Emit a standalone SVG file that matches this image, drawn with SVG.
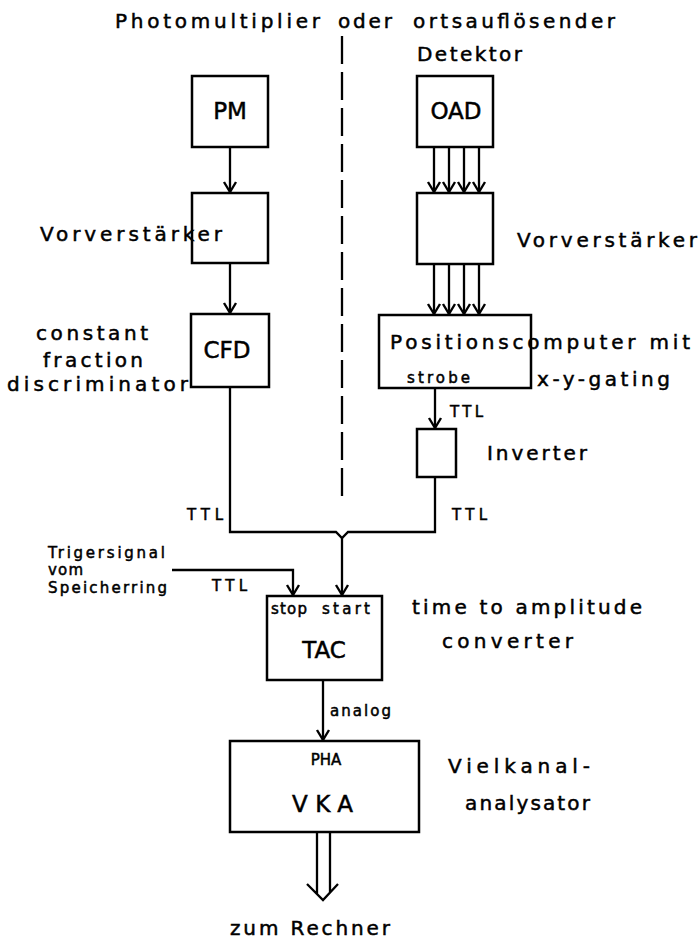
<svg xmlns="http://www.w3.org/2000/svg" width="699" height="940" viewBox="0 0 699 940">
<style>
text{font-family:"DejaVu Sans","Liberation Sans",sans-serif;fill:#000;stroke:#000;stroke-width:0.5}
.l{font-size:20px}
.b{font-size:23px}
.s{font-size:15px}
.box{fill:#fff;stroke:#000;stroke-width:2.5}
.ln{fill:none;stroke:#000;stroke-width:2.3}
</style>
<defs>
<marker id="ah" markerUnits="userSpaceOnUse" markerWidth="16" markerHeight="16" viewBox="-12 -8 14 16" refX="0" refY="0" orient="auto">
<path d="M-10,-6 L0,0 L-10,6" fill="none" stroke="#000" stroke-width="2.4"/>
</marker>
</defs>
<rect width="699" height="940" fill="#fff"/>
<g id="title">
<text class="l" x="115" y="28" textLength="205" lengthAdjust="spacing">Photomultiplier</text>
<text class="l" x="338" y="28" textLength="54" lengthAdjust="spacing">oder</text>
<text class="l" x="413" y="28" textLength="202" lengthAdjust="spacing">ortsauflösender</text>
<text class="l" x="417" y="61" textLength="105" lengthAdjust="spacing">Detektor</text>
</g>
<line x1="342" y1="36" x2="342" y2="496" stroke="#000" stroke-width="2.3" stroke-dasharray="28 8"/>
<g id="connectors">
<line class="ln" x1="230" y1="147" x2="230" y2="192" marker-end="url(#ah)"/>
<line class="ln" x1="230" y1="263" x2="230" y2="313" marker-end="url(#ah)"/>
<line class="ln" x1="434" y1="147" x2="434" y2="192" marker-end="url(#ah)"/>
<line class="ln" x1="449" y1="147" x2="449" y2="192" marker-end="url(#ah)"/>
<line class="ln" x1="464" y1="147" x2="464" y2="192" marker-end="url(#ah)"/>
<line class="ln" x1="479" y1="147" x2="479" y2="192" marker-end="url(#ah)"/>
<line class="ln" x1="434" y1="264" x2="434" y2="314" marker-end="url(#ah)"/>
<line class="ln" x1="449" y1="264" x2="449" y2="314" marker-end="url(#ah)"/>
<line class="ln" x1="464" y1="264" x2="464" y2="314" marker-end="url(#ah)"/>
<line class="ln" x1="479" y1="264" x2="479" y2="314" marker-end="url(#ah)"/>
<line class="ln" x1="435" y1="388" x2="435" y2="428" marker-end="url(#ah)"/>
<path class="ln" d="M230,387 V532 H336 L342,538 L348,532 H435 V477"/>
<line class="ln" x1="342" y1="538" x2="342" y2="595" marker-end="url(#ah)"/>
<path class="ln" d="M172,570 H293 V595" marker-end="url(#ah)"/>
<line class="ln" x1="323" y1="680" x2="323" y2="740" marker-end="url(#ah)"/>
<path class="ln" d="M317,832 V894 M330,832 V893 M307,884 L323,900 L338,884"/>
</g>
<g id="pm"><rect class="box" x="192" y="76" width="76" height="71"/><text class="b" x="230" y="119" text-anchor="middle">PM</text></g>
<g id="vv-left"><rect class="box" x="192" y="193" width="76" height="70"/></g>
<g id="cfd"><rect class="box" x="191" y="314" width="78" height="73"/><text class="b" x="227" y="358" text-anchor="middle">CFD</text></g>
<g id="oad"><rect class="box" x="417" y="76" width="76" height="71"/><text class="b" x="456" y="119" text-anchor="middle">OAD</text></g>
<g id="vv-right"><rect class="box" x="417" y="193" width="76" height="71"/></g>
<g id="poscomp"><rect class="box" x="379" y="315" width="152" height="73"/>
<text class="s" x="407" y="383" textLength="63" lengthAdjust="spacing">strobe</text></g>
<g id="inverter"><rect class="box" x="417" y="429" width="39" height="48"/></g>
<g id="tac"><rect class="box" x="267" y="596" width="115" height="84"/>
<text class="s" x="271" y="614" textLength="36" lengthAdjust="spacing">stop</text>
<text class="s" x="322" y="614" textLength="48" lengthAdjust="spacing">start</text>
<text class="b" x="324" y="658" text-anchor="middle">TAC</text></g>
<g id="vka"><rect class="box" x="230" y="741" width="189" height="91"/>
<text class="s" x="326" y="765" text-anchor="middle">PHA</text>
<text class="b" x="292" y="812" textLength="61" lengthAdjust="spacing">VKA</text></g>
<g id="labels">
<text class="l" x="40" y="241" textLength="182" lengthAdjust="spacing">Vorverstärker</text>
<text class="l" x="517" y="247" textLength="180" lengthAdjust="spacing">Vorverstärker</text>
<text class="l" x="36" y="340" textLength="112" lengthAdjust="spacing">constant</text>
<text class="l" x="43" y="367" textLength="100" lengthAdjust="spacing">fraction</text>
<text class="l" x="7" y="391" textLength="181" lengthAdjust="spacing">discriminator</text>
<text class="l" x="390" y="349" textLength="300" lengthAdjust="spacing">Positionscomputer mit</text>
<text class="l" x="537" y="386" textLength="133" lengthAdjust="spacing">x-y-gating</text>
<text class="s" x="450" y="417" textLength="33" lengthAdjust="spacing">TTL</text>
<text class="l" x="487" y="460" textLength="100" lengthAdjust="spacing">Inverter</text>
<text class="s" x="187" y="520" textLength="36" lengthAdjust="spacing">TTL</text>
<text class="s" x="452" y="520" textLength="35" lengthAdjust="spacing">TTL</text>
<text class="s" x="48" y="558" textLength="117" lengthAdjust="spacing">Trigersignal</text>
<text class="s" x="48" y="575" textLength="35" lengthAdjust="spacing">vom</text>
<text class="s" x="48" y="593" textLength="119" lengthAdjust="spacing">Speicherring</text>
<text class="s" x="212" y="591" textLength="35" lengthAdjust="spacing">TTL</text>
<text class="l" x="412" y="614" textLength="230" lengthAdjust="spacing">time to amplitude</text>
<text class="l" x="442" y="648" textLength="131" lengthAdjust="spacing">converter</text>
<text class="s" x="330" y="716" textLength="61" lengthAdjust="spacing">analog</text>
<text class="l" x="448" y="773" textLength="142" lengthAdjust="spacing">Vielkanal-</text>
<text class="l" x="465" y="810" textLength="125" lengthAdjust="spacing">analysator</text>
<text class="l" x="230" y="935" textLength="160" lengthAdjust="spacing">zum Rechner</text>
</g>
</svg>
